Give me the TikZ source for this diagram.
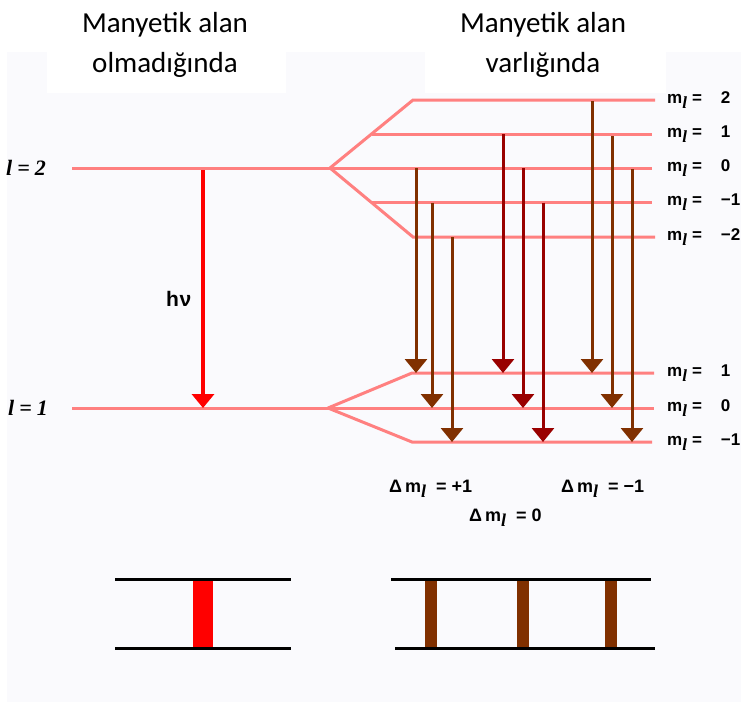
\documentclass[tikz,border=0pt]{standalone}
\usepackage{fontspec}
\setmainfont{Liberation Sans}
\newfontfamily\titlefont{Carlito}
\newfontfamily\serifbi{Liberation Serif}
\usetikzlibrary{arrows.meta}
\definecolor{lvl}{RGB}{255,128,128}
\definecolor{brn}{RGB}{128,48,0}
\definecolor{drd}{RGB}{153,0,0}
\definecolor{bgc}{RGB}{250,250,253}
\newcommand{\subl}{\raisebox{-0.3em}{\serifbi\bfseries\itshape l}}
\newcommand{\mlab}{{\bfseries m}\subl}
\tikzset{
  level/.style={draw=lvl,line width=3pt},
  tri/.style={line width=3pt,-{Triangle[width=22pt,length=14pt]}},
  brnarrow/.style={tri,draw=brn},
  drdarrow/.style={tri,draw=drd},
  mlabel/.style={anchor=west,inner sep=0pt,font=\fontsize{17}{17}\selectfont\bfseries},
  dlabel/.style={anchor=west,inner sep=0pt,font=\fontsize{18}{18}\selectfont\bfseries},
  llabel/.style={anchor=west,inner sep=0pt,font=\fontsize{22}{22}\selectfont\serifbi\bfseries\itshape},
  title/.style={align=center,inner sep=0pt,font=\fontsize{29}{40}\selectfont\titlefont},
  spec/.style={draw=black,line width=3pt},
}
\begin{document}
\begin{tikzpicture}[x=1pt,y=-1pt]
\useasboundingbox (0,0) rectangle (741,702);
\fill[white] (0,0) rectangle (741,702);
\fill[bgc] (7,52) rectangle (741,702);
\fill[white] (47,52) rectangle (286,93);
\fill[white] (425,52) rectangle (666,93);
% titles
\node[title] (t1) at (165,45) {Manyetik alan\\olmadığında};
\node[title] (t2) at (543,45) {Manyetik alan\\varlığında};
% coordinates
\coordinate (L2a) at (72,168);  \coordinate (L2s) at (330,168);
\coordinate (L1a) at (72,408);  \coordinate (L1s) at (328,408);
\coordinate (u2a) at (413,100); \coordinate (u2b) at (655,100);
\coordinate (u1a) at (371.5,134); \coordinate (u1b) at (652,134);
\coordinate (u0b) at (652,168);
\coordinate (um1a) at (371.5,202.5); \coordinate (um1b) at (652,202.5);
\coordinate (um2a) at (413,237); \coordinate (um2b) at (655,237);
\coordinate (d1a) at (412,373); \coordinate (d1b) at (654,373);
\coordinate (d0b) at (654,408);
\coordinate (dm1a) at (412,442); \coordinate (dm1b) at (652,442);
% levels
\draw[level] (L2a) -- (L2s);
\draw[level] (L2s) -- (u0b);
\draw[level] (L2s) -- (u2a) -- (u2b);
\draw[level] (L2s) -- (um2a) -- (um2b);
\draw[level] (u1a) -- (u1b);
\draw[level] (um1a) -- (um1b);
\draw[level] (L1a) -- (L1s);
\draw[level] (L1s) -- (d0b);
\draw[level] (L1s) -- (d1a) -- (d1b);
\draw[level] (L1s) -- (dm1a) -- (dm1b);
% no-field transition
\coordinate (r0) at (203,170); \coordinate (r1) at (203,408);
\draw[line width=4pt,red,-{Triangle[width=22pt,length=14pt]}] (r0) -- (r1);
\node[anchor=west,inner sep=0pt,font=\fontsize{21}{21}\selectfont\bfseries] (hv) at (166,299) {h\kern0.5ptν};
% field transitions
\foreach \x/\ys/\ye/\n in {416/168/373/a1,432/202.5/408/a2,452/237/442/a3}{
  \coordinate (\n s) at (\x,\ys); \coordinate (\n e) at (\x,\ye);
  \draw[brnarrow] (\n s) -- (\n e);}
\foreach \x/\ys/\ye/\n in {503/134/373/b1,523/168/408/b2,543/202.5/442/b3}{
  \coordinate (\n s) at (\x,\ys); \coordinate (\n e) at (\x,\ye);
  \draw[drdarrow] (\n s) -- (\n e);}
\foreach \x/\ys/\ye/\n in {592/101/373/c1,612/136/408/c2,632/169/442/c3}{
  \coordinate (\n s) at (\x,\ys); \coordinate (\n e) at (\x,\ye);
  \draw[brnarrow] (\n s) -- (\n e);}
% level labels
\node[llabel] (l2) at (6,168) {l\hspace{5pt}=\hspace{5pt}2};
\node[llabel] (l1) at (8,408) {l\hspace{5pt}=\hspace{5pt}1};
\foreach \y/\v/\n in {100/2/p2,134/1/p1,168/0/p0,202.5/−1/pm1,237/−2/pm2,373/1/q1,408/0/q0,442/−1/qm1}{
  \node[mlabel] (\n) at (667,\y) {\mlab\hspace{5pt}=\hspace{19pt}\v};}
% delta labels
\node[dlabel] (dp) at (389,489) {Δ\,\mlab\ \ = +1};
\node[dlabel] (dz) at (469,518) {Δ\,\mlab\ \ = 0};
\node[dlabel] (dm) at (561,489) {Δ\,\mlab\ \ = −1};
% spectra
\fill[red] (193,579) rectangle (213,648);
\draw[spec] (115,579) -- (291,579);
\draw[spec] (115,648) -- (291,648);
\foreach \x in {425,517,605}{\fill[brn] (\x,579) rectangle (\x+12,648);}
\draw[spec] (391,579) -- (651,579);
\draw[spec] (395,648) -- (655,648);
\end{tikzpicture}
\end{document}
